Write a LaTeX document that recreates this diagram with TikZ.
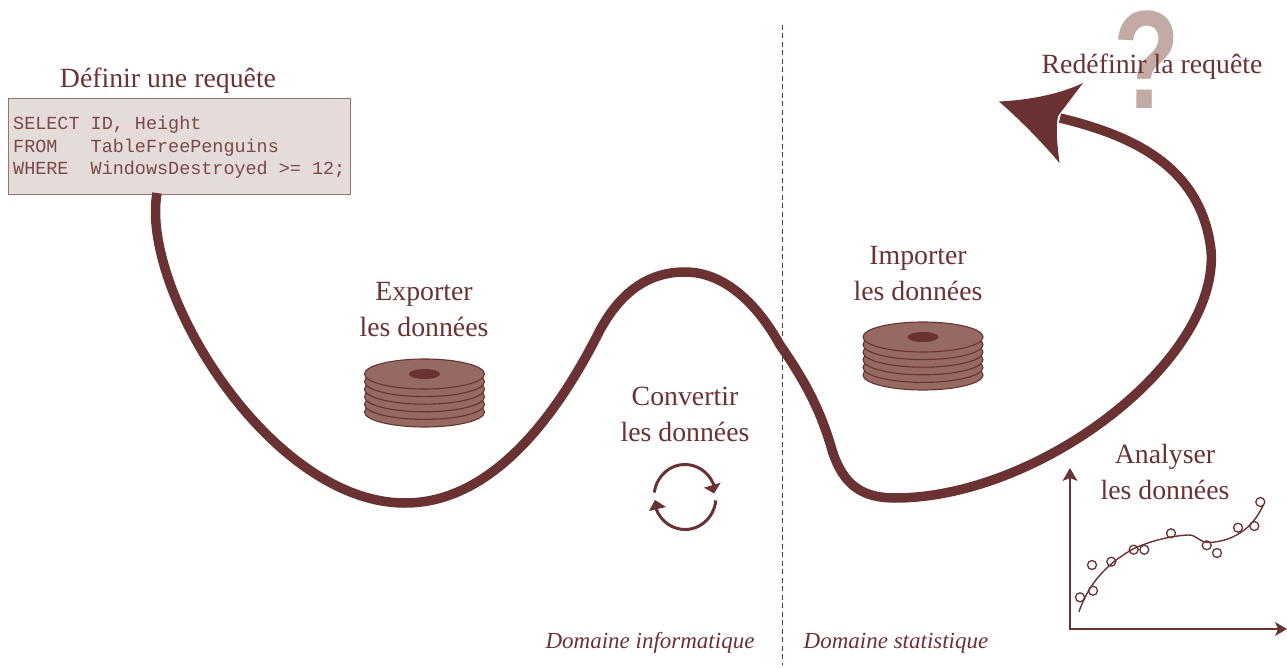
\documentclass[tikz,border=0pt]{standalone}
\usepackage{fontspec}
\setmainfont{Liberation Serif}
\setmonofont{Liberation Mono}
\newfontfamily\qfont{Liberation Sans}
\definecolor{wine}{HTML}{6A3232}
\definecolor{codeink}{HTML}{7A4A48}
\definecolor{diskfill}{HTML}{946A62}
\definecolor{boxfill}{HTML}{E5DBD9}
\definecolor{boxline}{HTML}{9A726E}
\definecolor{qmark}{HTML}{C1ABA4}
\tikzset{
  lbl/.style={text=wine,font=\fontsize{27.8}{36}\selectfont,align=center,inner sep=0pt},
  dom/.style={text=wine,font=\fontsize{23}{26}\selectfont\itshape,inner sep=0pt},
  code/.style={anchor=base west,inner sep=0pt,text=codeink,font=\fontsize{18.45}{22.5}\selectfont\ttfamily},
  disc/.style={draw=wine,fill=diskfill,line width=1.1pt},
  hub/.style={fill=wine},
  pt/.style={draw=wine,line width=1.3pt,fill=none,circle,minimum size=9pt,inner sep=0pt},
  thin line/.style={draw=wine,line width=1.5pt},
  main/.style={draw=wine,line width=9.5pt},
  cyc/.style={draw=wine,line width=3pt}
}
\newcommand{\diskstack}[2]{%
  \foreach \k in {5,4,3,2,1,0}{
    \path[disc] (#1,#2+\k*7.6) ellipse [x radius=60pt,y radius=15pt];
  }
  \path[hub] (#1,#2) ellipse [x radius=15.5pt,y radius=5pt];
}
\begin{document}
\begin{tikzpicture}[x=1pt,y=-1pt]
\useasboundingbox (0,0) rectangle (1287,668);

% question mark, behind the label
\node[text=qmark,inner sep=0pt,xscale=0.78,font=\fontsize{140}{140}\selectfont\qfont\bfseries] (qm) at (1147,60) {?};

% query box
\node[draw=boxline,fill=boxfill,line width=1pt,minimum width=342pt,minimum height=96pt,inner sep=0pt] (q) at (179,147) {};
\node[code] (l1) at (13,130) {SELECT ID, Height};
\node[code] (l2) at (13,152.5) {FROM\ \ \ TableFreePenguins};
\node[code] (l3) at (13,175) {WHERE\ \ WindowsDestroyed >= 12;};

% labels
\node[lbl] (t1) at (168,80.5) {Définir une requête};
\node[lbl] (t2) at (1152,67) {Redéfinir la requête};
\node[lbl] (t3) at (424,310) {Exporter\\les données};
\node[lbl] (t4) at (918,274) {Importer\\les données};
\node[lbl] (t5) at (685,414) {Convertir\\les données};
\node[lbl] (t6) at (1165,472) {Analyser\\les données};
\node[dom,anchor=base] (d1) at (650,648) {Domaine informatique};
\node[dom,anchor=base] (d2) at (896,648) {Domaine statistique};

% separator
\coordinate (sepa) at (782,25);
\coordinate (sepb) at (782,665);
\draw[wine,line width=0.9pt,dash pattern=on 5pt off 3.5pt] (sepa) -- (sepb);

% discs
\diskstack{424.5}{374}
\diskstack{923}{337}

% main curve
\coordinate (start) at (157,193);
\coordinate (end) at (1060,118);
\draw[main] (start)
  .. controls (140,290) and (270,503) .. (405,503)
  .. controls (490,503) and (555,420) .. (600,330)
  .. controls (622,290) and (650,272) .. (685,272)
  .. controls (725,272) and (758,305) .. (780,345)
  .. controls (808,385) and (822,415) .. (832,450)
  .. controls (843,485) and (862,498) .. (895,498)
  .. controls (1040,498) and (1220,360) .. (1211,250)
  .. controls (1201,165) and (1130,135) .. (end);
\fill[wine] (999,101.5) .. controls (1030,100) and (1060,94) .. (1083,83) -- (1058,116) -- (1057,123) .. controls (1056,135) and (1058,150) .. (1059.5,163) .. controls (1040,140) and (1020,120) .. (999,101.5) -- cycle;

% cycle icon
\draw[cyc] (654.3,492.5) arc[start angle=188,end angle=342,x radius=31,y radius=32.5];
\draw[cyc] (715.8,500.4) arc[start angle=6,end angle=168,x radius=31,y radius=32.5];
\fill[wine] (720.7,482.7) -- (704,487.7) -- (714,493.5) -- cycle;
\fill[wine] (649,511) -- (655,500) -- (666,507) -- cycle;

% chart
\coordinate (org) at (1070,629);
\coordinate (ytop) at (1070,476);
\coordinate (xend) at (1278,629);
\draw[thin line] (ytop) -- (org) -- (xend);
\fill[wine] (1070,468) -- (1077.5,481) -- (1070,478) -- (1062.5,481) -- cycle;
\fill[wine] (1287,629) -- (1275,622) -- (1278,629) -- (1275,636) -- cycle;
\draw[wine,line width=1.4pt] (1079,611.7)
  .. controls (1090,580) and (1110,562) .. (1133,549)
  .. controls (1150,541) and (1170,536) .. (1188,535)
  .. controls (1197,534.5) and (1199,543) .. (1210,542.5)
  .. controls (1232,541) and (1252,530) .. (1263.3,505);
\foreach \n/\x/\y in {a/1080/597.3,b/1093/590.7,c/1092/565,d/1111.3/561.7,e/1133.7/549.7,f/1144.3/549.7,g/1171/533.3,h/1206.7/545.3,i/1217/553,j/1238/527.7,k/1254.3/526,l/1260.3/502}{
  \node[pt] (p\n) at (\x,\y) {};
}
\end{tikzpicture}
\end{document}
